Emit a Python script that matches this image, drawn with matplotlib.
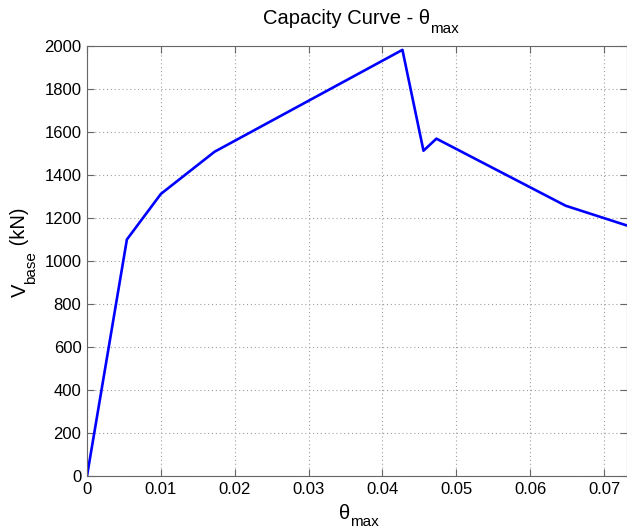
import matplotlib
matplotlib.use("Agg")
import matplotlib.pyplot as plt

# Data
theta_max = [0.0, 0.0054, 0.0100, 0.01726, 0.0427, 0.04555, 0.0473, 0.0648, 0.0731]
v_base = [0, 1100, 1312, 1508, 1982, 1513, 1569, 1257, 1165]
x_ticks = [0, 0.01, 0.02, 0.03, 0.04, 0.05, 0.06, 0.07]
x_tick_labels = ["0", "0.01", "0.02", "0.03", "0.04", "0.05", "0.06", "0.07"]
y_ticks = list(range(0, 2001, 200))

plt.rcParams['font.family'] = ['Liberation Sans', 'DejaVu Sans']

W, H = 627, 529
fig = plt.figure(figsize=(W / 100, H / 100), dpi=100)
ax = fig.add_axes([87 / W, 53 / H, (W - 87) / W, (476 - 46) / H])

ax.plot(theta_max, v_base, color=(0, 0, 1), linewidth=1.9)

ax.set_xlim(0, max(theta_max))
ax.set_ylim(0, 2000)
ax.set_xticks(x_ticks)
ax.set_xticklabels(x_tick_labels)
ax.set_yticks(y_ticks)

ax.grid(True, linestyle=(0, (1, 2.5)), color='#a0a0a0', linewidth=0.8)
ax.tick_params(direction='in', length=5, width=0.8, color='#666666',
               labelsize=12, top=True, right=True, pad=4)
for s in ax.spines.values():
    s.set_color('#666666')
    s.set_linewidth(0.8)

renderer = fig.canvas.get_renderer()


def piece_width(s, size):
    t = fig.text(0, 0, s, fontsize=size)
    w = t.get_window_extent(renderer).width
    t.remove()
    return w


def sub_text(xc, base_top, pieces, gap=0.0):
    """Horizontal text made of (string, size, drop_px) pieces, centred at xc."""
    widths = [piece_width(s, sz) for s, sz, _ in pieces]
    total = sum(widths) + gap * (len(pieces) - 1)
    x = xc - total / 2
    yb = H - base_top
    for (s, sz, drop), w in zip(pieces, widths):
        fig.text(x / W, (yb - drop) / H, s, fontsize=sz, va='baseline', ha='left')
        x += w + gap


def sub_text_vertical(base_x, y_start_top, pieces):
    """Text rotated 90 deg, made of (string, size, drop_px) pieces, from bottom up."""
    y = H - y_start_top
    for s, sz, drop in pieces:
        w = piece_width(s, sz)
        fig.text((base_x + drop) / W, y / H, s, fontsize=sz, rotation=90,
                 rotation_mode='anchor', va='baseline', ha='left')
        y += w


sub_text(361, 23.5, [('Capacity Curve - θ', 14.5, 0), ('max', 11, 9.5)])
sub_text(359, 519.3, [('θ', 14.5, 0), ('max', 11, 6.5)], gap=0)
sub_text_vertical(25.5, 297, [('V', 14.5, 0), ('base', 11, 9.5), (' (kN)', 14.5, 0)])

fig.savefig('out.png', dpi=100)
